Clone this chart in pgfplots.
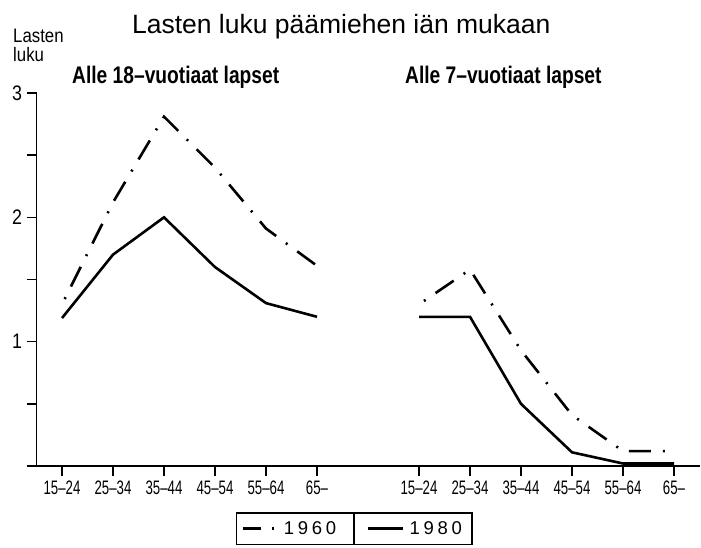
\documentclass[border=0pt]{standalone}
\usepackage{pgfplots}
\pgfplotsset{compat=1.18}
\usepackage{fontspec}
\setmainfont{Liberation Sans}
\newfontfamily\condfont[FakeStretch=0.68]{Liberation Sans}
\newfontfamily\ylfont[FakeStretch=0.86]{Liberation Sans}
\newfontfamily\ytfont[FakeStretch=0.85]{Liberation Sans}
\newfontfamily\titlefont{Liberation Sans}
\newfontfamily\subfont[FakeStretch=0.8]{Liberation Sans}
\newfontfamily\legfont[LetterSpace=20]{Liberation Sans}
\begin{document}
\begin{tikzpicture}
\useasboundingbox (0,0) rectangle (701pt,547pt);
\begin{axis}[
  at={(36.5pt,81pt)}, anchor=south west,
  scale only axis, width=663pt, height=373pt,
  xmin=-0.5, xmax=12.5, ymin=0, ymax=3,
  axis lines=left, axis line style={-, line width=1.8pt},
  clip=false,
  xtick={0,1,2,3,4,5,7,8,9,10,11,12},
  xticklabels={15–24,25–34,35–44,45–54,55–64,65–,15–24,25–34,35–44,45–54,55–64,65–},
  ytick={0,1,2,3}, yticklabels={,1,2,3},
  minor ytick={0.5,1.5,2.5},
  tick align=outside, major tick length=10pt, minor tick length=10pt,
  tick style={black, line width=1.6pt},
  x tick label style={font=\fontsize{19.5}{19.5}\condfont, text height=14pt, text depth=0pt, yshift=-1pt},
  y tick label style={font=\fontsize{21}{21}\ytfont, xshift=-1pt},
  legend columns=2,
  legend style={at={(0.479,-0.168)}, anchor=center, draw=black, line width=1.3pt,
    font=\fontsize{18.5}{18.5}\legfont, inner xsep=5pt, inner ysep=7.5pt,
    nodes={inner xsep=5pt, inner ysep=1pt},
    /tikz/every even column/.append style={column sep=26pt}, name=leg},
  legend image code/.code={\draw[#1, line width=2.6pt, dash phase=0pt] (0pt,0pt) -- (35pt,0pt);},
]
% 1960, alle 18
\addplot[black, line width=2.6pt, dash pattern=on 22pt off 12pt on 2pt off 12pt, dash phase=28pt,
  legend image post style={dash pattern=on 18pt off 11pt on 2pt off 10pt}]
  coordinates {(0,1.30) (1,2.12) (2,2.81) (3,2.40) (4,1.91) (5,1.61)};
\addlegendentry{1960}
% 1980, alle 18
\addplot[black, line width=2.6pt]
  coordinates {(0,1.19) (1,1.70) (2,2.00) (3,1.60) (4,1.31) (5,1.20)};
\addlegendentry{1980}
% 1960, alle 7
\addplot[black, line width=2.6pt, dash pattern=on 22pt off 12pt on 2pt off 12pt, dash phase=28pt, forget plot]
  coordinates {(7,1.30) (8,1.58) (9,0.93) (10,0.41) (11,0.12) (12,0.12)};
% 1980, alle 7
\addplot[black, line width=2.6pt, forget plot]
  coordinates {(7,1.20) (8,1.20) (9,0.50) (10,0.11) (11,0.02) (12,0.02)};

\node[anchor=base west, font=\fontsize{26.5}{26.5}\titlefont, inner sep=0pt]
  at (axis cs:1.37,3.48) {Lasten luku päämiehen iän mukaan};
\node[anchor=base west, font=\fontsize{24}{24}\subfont\bfseries, inner sep=0pt]
  at (axis cs:0.196,3.08) {Alle 18–vuotiaat lapset};
\node[anchor=base west, font=\fontsize{24}{24}\subfont\bfseries, inner sep=0pt]
  at (axis cs:6.725,3.08) {Alle 7–vuotiaat lapset};
\node[anchor=base west, font=\fontsize{19.5}{19.5}\ylfont, inner sep=0pt]
  at (axis cs:-0.96,3.405) {Lasten};
\node[anchor=base west, font=\fontsize{19.5}{19.5}\ylfont, inner sep=0pt]
  at (axis cs:-0.96,3.255) {luku};
\end{axis}
\draw[line width=1.3pt] (leg.north) -- (leg.south);
\end{tikzpicture}
\end{document}
